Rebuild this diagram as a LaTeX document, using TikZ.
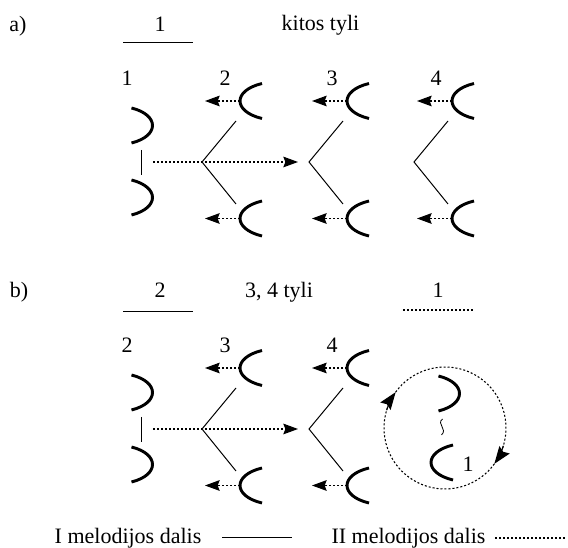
\documentclass[tikz,border=0pt]{standalone}
\usepackage{fontspec}
\setmainfont{Liberation Serif}
\usetikzlibrary{arrows.meta}

% a pair of closing bows joined by a short stem, with the dotted arrow to the right
\newcommand{\closers}[1]{%
  \coordinate (#1-top) at (152.5,125.5);
  \coordinate (#1-bot) at (152.5,197.5);
  \pic at (#1-top) {closer};
  \pic at (#1-bot) {closer};
  \coordinate (#1-s1) at (141,150);
  \coordinate (#1-s2) at (141,175);
  \draw[stem] (#1-s1) -- (#1-s2);
  \coordinate (#1-go) at (153,162);
  \coordinate (#1-to) at (298,162);
  \draw[dots,tip] (#1-go) -- (#1-to);
}
% a fork: two thin strokes from a vertex, an opening bow at each end,
% each bow sending a dotted arrow back towards the vertex
% #1 name, #2 x of the vertex
\newcommand{\fork}[2]{%
  \coordinate (#1-v) at (#2,162);
  \coordinate (#1-u) at (#2+34,121);
  \coordinate (#1-d) at (#2+34,204);
  \draw[stem] (#1-u) -- (#1-v) -- (#1-d);
  \coordinate (#1-am) at (#2+38,101);
  \coordinate (#1-bm) at (#2+38,218.5);
  \pic at (#1-am) {opener};
  \pic at (#1-bm) {opener};
  \coordinate (#1-at) at (#2+3,101);
  \coordinate (#1-bt) at (#2+3,218.5);
  \draw[dots,tip] (#1-am) -- (#1-at);
  \draw[dots,tip] (#1-bm) -- (#1-bt);
}

\begin{document}
\begin{tikzpicture}[x=0.75pt,y=-0.75pt,
  bow/.style={line width=2.2pt},
  stem/.style={line width=0.75pt},
  dots/.style={line width=0.8pt, dash pattern=on 1.5pt off 1.5pt},
  tip/.style={-{Stealth[length=11pt,width=8pt,inset=1.5pt]}},
  bigtip/.style={-{Stealth[length=13pt,width=9.5pt,inset=1.8pt]}},
  txt/.style={font=\fontsize{16.5}{19}\selectfont, inner sep=0pt, anchor=base},
  opener/.pic={\draw[bow] (22,-17.5) .. controls (-7.3,-10.5) and (-7.3,10.5) .. (22,17.5);},
  closer/.pic={\draw[bow] (-21,-17.5) .. controls (7,-10.5) and (7,10.5) .. (-21,17.5);},
]
\useasboundingbox (0,0) rectangle (568,548);

% ---------- part a ----------
\node[txt] (ta) at (18,32) {a)};
\node[txt] (ta1) at (160,32) {1};
\coordinate (ua1) at (123,43);
\coordinate (ua2) at (193,43);
\draw[stem] (ua1) -- (ua2);
\node[txt] (tak) at (320.5,31) {kitos tyli};

\node[txt] (na1) at (127,86) {1};
\node[txt] (na2) at (225,86) {2};
\node[txt] (na3) at (332,86) {3};
\node[txt] (na4) at (436,86) {4};
\closers{A}
\fork{A2}{202}
\fork{A3}{309}
\fork{A4}{414}

% ---------- part b ----------
\node[txt] (tb) at (19,298) {b)};
\node[txt] (tb2) at (160,298) {2};
\coordinate (ub1) at (123,312);
\coordinate (ub2) at (193,312);
\draw[stem] (ub1) -- (ub2);
\node[txt] (tbk) at (279,298) {3, 4 tyli};
\node[txt] (tb1) at (438,298) {1};
\coordinate (ub3) at (403,310);
\coordinate (ub4) at (473,310);
\draw[dots] (ub3) -- (ub4);

\begin{scope}[shift={(0,267)}]
  \node[txt] (nb2) at (127,86) {2};
  \node[txt] (nb3) at (225,86) {3};
  \node[txt] (nb4) at (332,86) {4};
  \closers{B}
  \fork{B3}{202}
  \fork{B4}{309}
\end{scope}

% the returning loop around part 1: a dotted circle, two heads running clockwise
\coordinate (loop) at (445,428);
\coordinate (loopA) at ([shift={(36:61)}]loop);
\coordinate (loopB) at ([shift={(216:61)}]loop);
\draw[dots] (loopA) arc[start angle=36,end angle=216,radius=61];
\draw[dots] (loopB) arc[start angle=216,end angle=396,radius=61];
\coordinate (headA) at ([shift={(197:61)}]loop);
\coordinate (headB) at ([shift={(17:61)}]loop);
\draw[line width=0.8pt,bigtip] (headA) arc[start angle=197,end angle=216,radius=61];
\draw[line width=0.8pt,bigtip] (headB) arc[start angle=17,end angle=36,radius=61];

\coordinate (c-top) at (459.5,393.5);
\pic at (c-top) {closer};
\coordinate (w1) at (442.5,419);
\coordinate (w2) at (441.5,435);
\draw[line width=0.6pt] (w1) .. controls (436,424) and (448,429) .. (w2);
\coordinate (c-bot) at (431,462.5);
\pic at (c-bot) {opener};
\node[txt] (nc1) at (468,472) {1};

% ---------- legend ----------
\node[txt] (l1) at (128,544) {I melodijos dalis};
\coordinate (lg1) at (222,538);
\coordinate (lg2) at (292,538);
\draw[stem] (lg1) -- (lg2);
\node[txt] (l2) at (408.5,544) {II melodijos dalis};
\coordinate (lg3) at (495,538);
\coordinate (lg4) at (567,538);
\draw[dots] (lg3) -- (lg4);
\end{tikzpicture}
\end{document}
